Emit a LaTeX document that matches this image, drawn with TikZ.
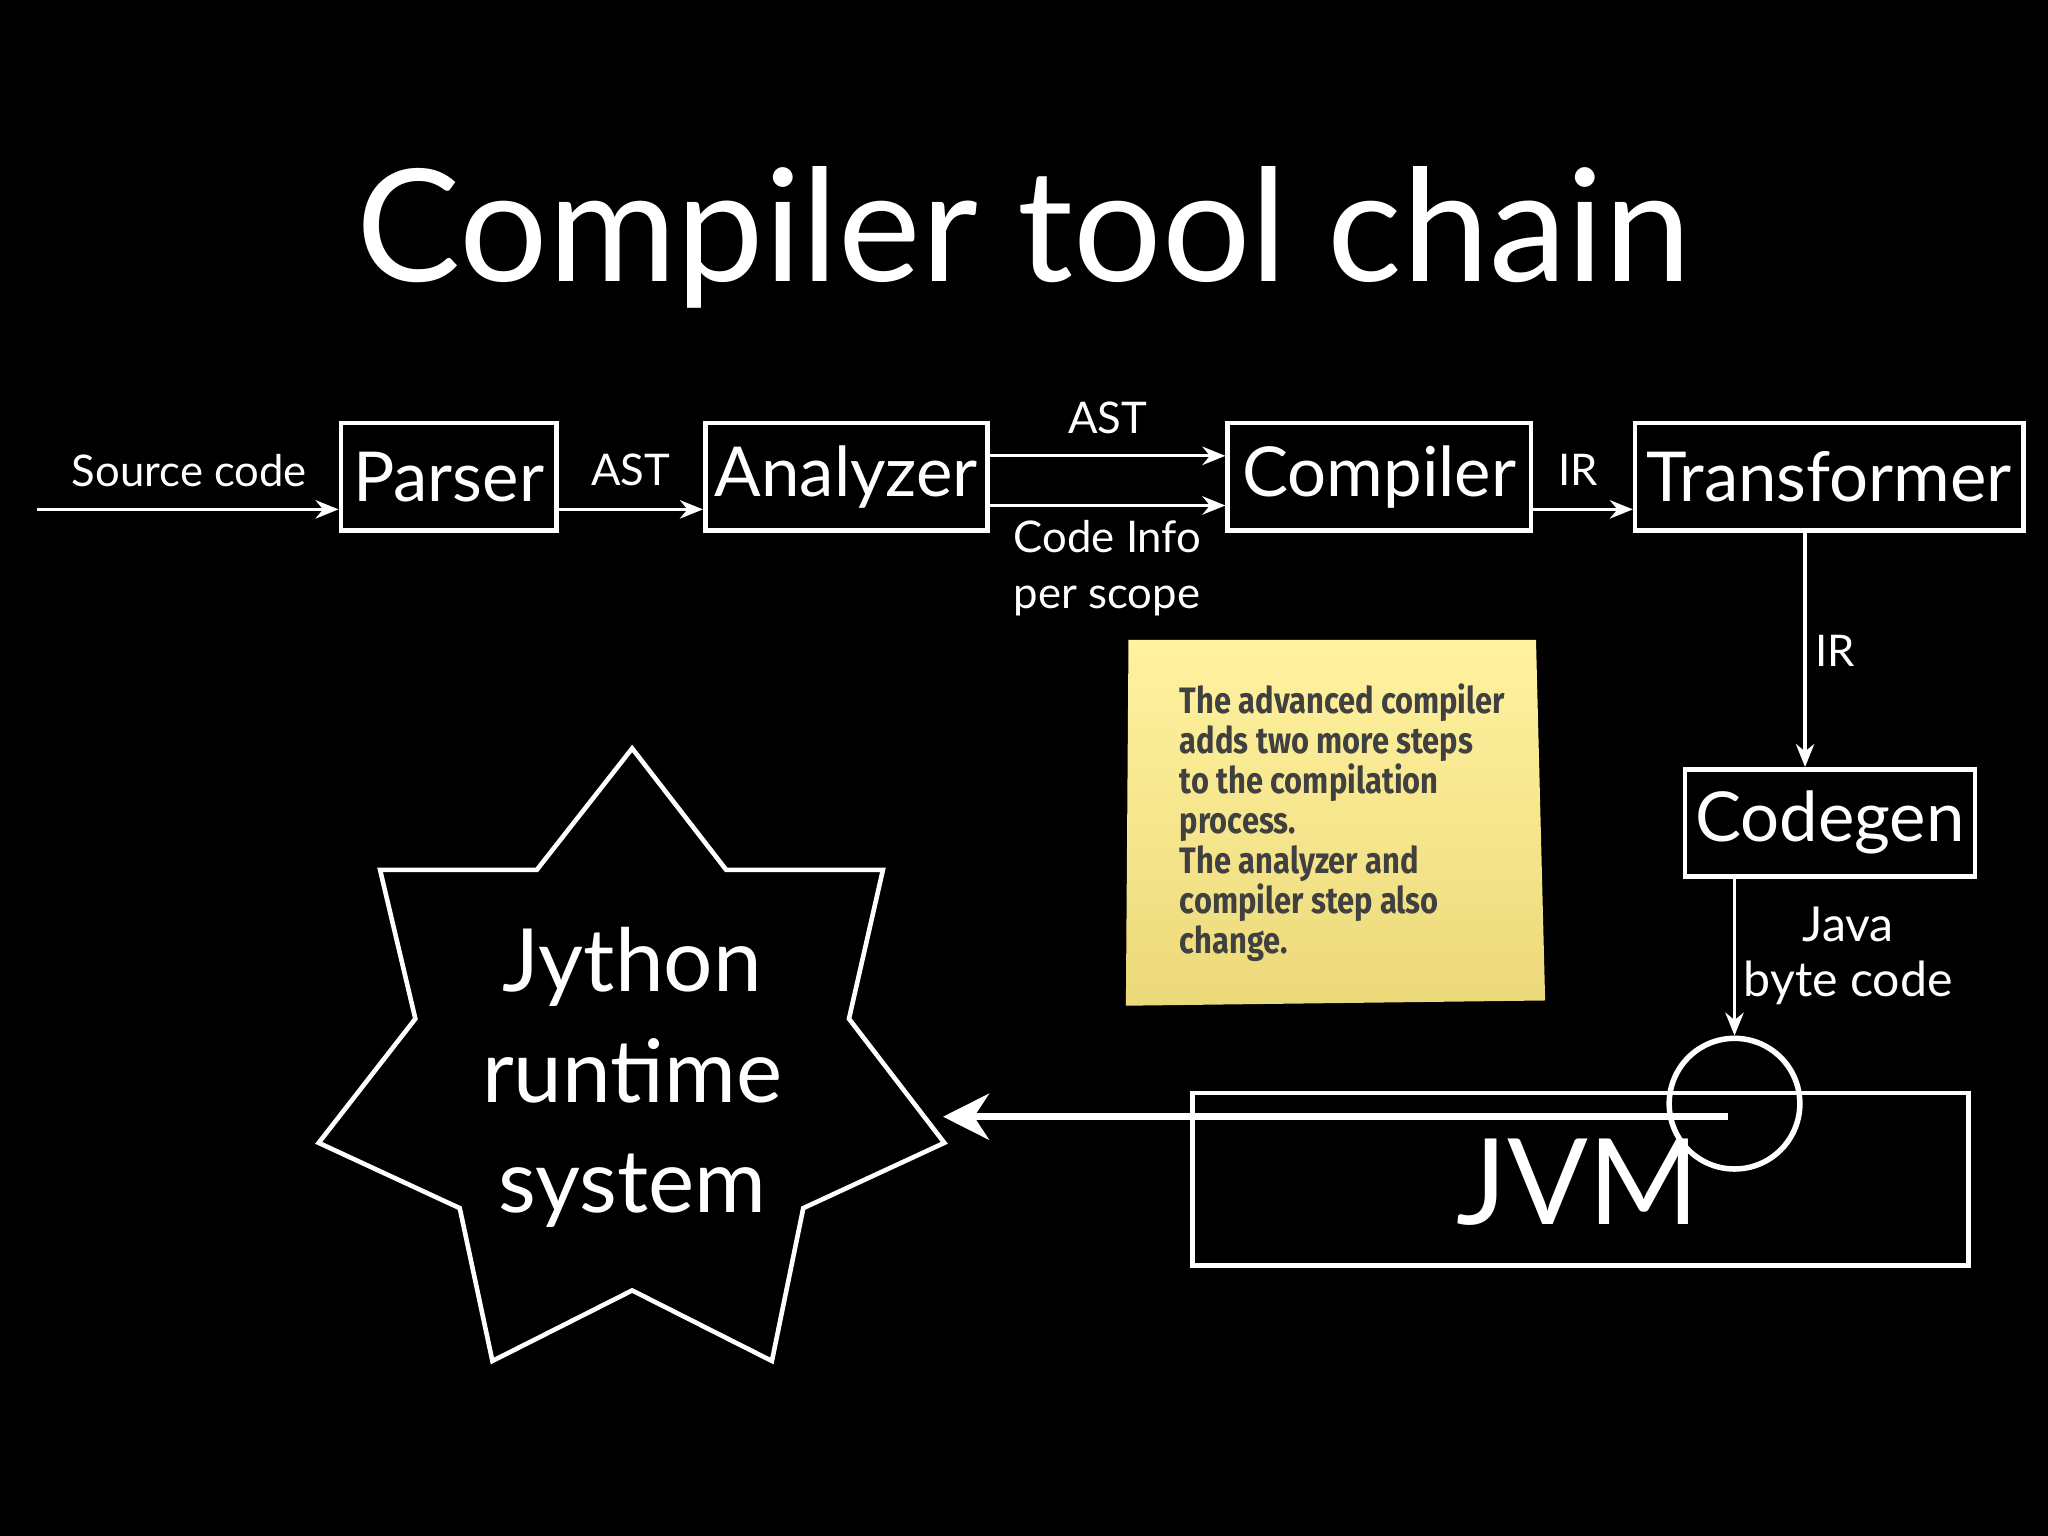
\documentclass[tikz,border=0pt]{standalone}
\usepackage{fontspec}
\setmainfont{Lato}
\newfontfamily\notefont{Fira Sans}[FakeStretch=0.84]
\usetikzlibrary{arrows.meta}
\begin{document}
\begin{tikzpicture}[x=0.01cm,y=-0.01cm,
  box/.style={draw=white,line width=1pt,text=white,font=\fontsize{15}{18}\selectfont,inner sep=0pt,minimum height=0.82cm},
  lbl/.style={text=white,font=\fontsize{9.5}{12}\selectfont,align=center},
  arr/.style={draw=white,line width=0.7pt,-{Stealth[length=5pt,width=4pt]}}]
\fill[black] (0,0) rectangle (1568,1176);
\useasboundingbox (0,0) rectangle (1568,1176);
\node[text=white,font=\fontsize{34}{40}\selectfont] (title) at (784,182) {Compiler tool chain};
\node[box,minimum width=1.65cm] (parser) at (343.5,365) {Parser};
\node[box,minimum width=2.16cm] (analyzer) at (648,365) {Analyzer};
\node[box,minimum width=2.32cm] (compiler) at (1056,365) {Compiler};
\node[box,minimum width=2.97cm] (transformer) at (1400.5,365) {Transformer};
\node[box,minimum width=2.22cm] (codegen) at (1401,630) {Codegen};
\coordinate (src) at (28,390);
\draw[arr] (src) -- (src -| parser.west);
\node[lbl] at (145,360) {Source code};
\draw[arr] (parser.east |- 0,390) -- (analyzer.west |- 0,390);
\node[lbl] at (483,360) {AST};
\draw[arr] (analyzer.east |- 0,349) -- (compiler.west |- 0,349);
\draw[arr] (analyzer.east |- 0,387) -- (compiler.west |- 0,387);
\node[lbl] at (848,320) {AST};
\node[lbl,align=left] at (848,435) {Code Info\\per scope};
\draw[arr] (compiler.east |- 0,390) -- (transformer.west |- 0,390);
\node[lbl] at (1208,360) {IR};
\draw[arr] (transformer.south -| 1382,0) -- (codegen.north -| 1382,0);
\node[lbl] at (1405,498) {IR};
\node[draw=white,line width=1pt,rectangle,minimum width=5.94cm,minimum height=1.32cm,inner sep=0pt] (jvm) at (1210,903) {};
\node[text=white,font=\fontsize{26}{30}\selectfont] (jvmt) at (1208,905) {JVM};
\node[draw=white,line width=1.2pt,circle,minimum size=1cm,inner sep=0pt] (circ) at (1328,845) {};
\draw[arr] (codegen.south -| 1328,0) -- (circ.north);
\node[lbl,font=\fontsize{10.5}{12}\selectfont] at (1415,732) {Java\\byte code};
\draw[draw=white,line width=1pt] (484,573) -- (556,666) -- (676,666) -- (650,780) -- (723,875) -- (615,925) -- (591,1042) -- (484,988) -- (377,1042) -- (352,925) -- (244,875) -- (318,780) -- (291,666) -- (411,666) -- cycle;
\node[text=white,font=\fontsize{19}{24}\selectfont,align=center] (star) at (484,825) {Jython\\runtime\\system};
\coordinate (jstart) at (1323,855);
\draw[draw=white,line width=1.5pt,-{Stealth[length=10pt,width=10pt]}] (jstart) -- (722,855);
\shade[top color=yellow!30!white!90!orange,bottom color=yellow!50!brown!60!white] (864,490) -- (1176,490) -- (1183,766) -- (862,770) -- cycle;
\node[font=\notefont\bfseries\fontsize{8}{8.7}\selectfont,text=black!75,align=left,anchor=north west] (note) at (891,511) {The advanced compiler\\adds two more steps\\to the compilation\\process.\\The analyzer and\\compiler step also\\change.};
\end{tikzpicture}
\end{document}
